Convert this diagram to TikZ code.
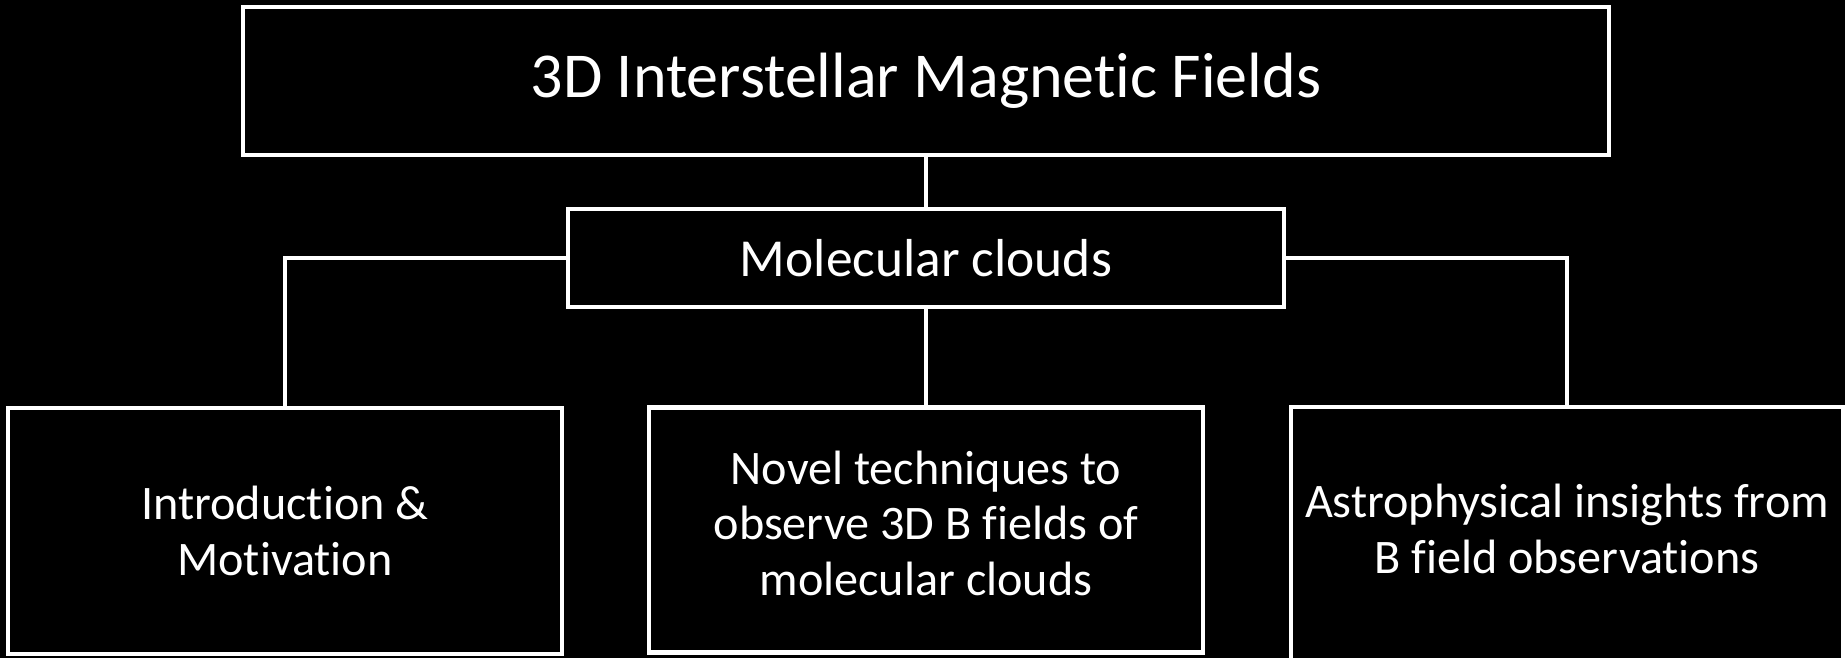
\documentclass[tikz,border=0pt]{standalone}
\usepackage{fontspec}
\setmainfont{Carlito}[Ligatures=NoCommon]

\begin{document}
\begin{tikzpicture}[x=0.01cm,y=-0.01cm,
  box/.style={draw=white,line width=1.2pt,text=white,align=center,inner sep=0pt},
  link/.style={draw=white,line width=1.2pt},
  big/.style={font=\fontsize{18.2}{22}\selectfont},
  mid/.style={font=\fontsize{15.2}{18}\selectfont},
  small/.style={font=\fontsize{13.7}{15.8}\selectfont}]

% black page
\fill[black] (0,0) rectangle (1845,658);
\useasboundingbox (0,0) rectangle (1845,658);

% top two levels
\node[box,big,minimum width=13.65cm,minimum height=1.48cm] (title) at (926,81) {3D Interstellar Magnetic Fields};
\node[box,mid,minimum width=7.15cm,minimum height=0.98cm] (clouds) at (926,258) {Molecular clouds};

% the three branches
\node[box,small,minimum width=5.53cm,minimum height=2.46cm] (intro) at (285,531) {Introduction \&\\Motivation};
\node[box,small,minimum width=5.54cm,minimum height=2.45cm] (novel) at (926,530) {Novel techniques to\\observe 3D B fields of\\molecular clouds\rule[-4pt]{0pt}{0pt}};
\node[box,small,minimum width=5.52cm,minimum height=2.56cm] (insights) at (1567,535) {Astrophysical insights from\\B field observations\rule[-3.4pt]{0pt}{0pt}};

\draw[link] (title.south) -- (clouds.north);
\draw[link] (clouds.south) -- (novel.north);
\draw[link] (clouds.west) -| (intro.north);
\draw[link] (clouds.east) -| (insights.north);

\end{tikzpicture}
\end{document}
